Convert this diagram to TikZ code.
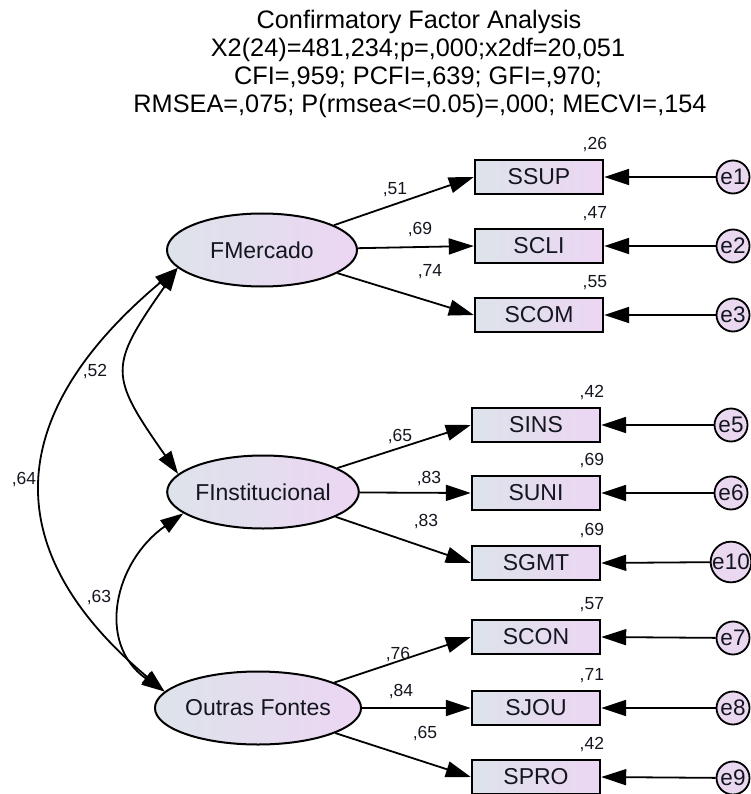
\documentclass[tikz,border=0pt]{standalone}
\usepackage{fontspec}
\setmainfont{Liberation Sans}
\usetikzlibrary{arrows.meta,shapes.geometric}

\definecolor{fillL}{HTML}{DDE3EA}
\definecolor{fillR}{HTML}{ECD6F3}
\definecolor{errfill}{HTML}{EAD8F1}
\definecolor{ink}{HTML}{14161F}

\tikzset{
  arr/.style={line width=1.8pt, -{Triangle[length=25pt,width=16pt]}},
  biarr/.style={line width=1.8pt, {Triangle[length=23pt,width=15pt]}-{Triangle[length=23pt,width=15pt]}},
  latent/.style={ellipse, draw, line width=2pt, minimum width=190pt, minimum height=73pt,
    left color=fillL, right color=fillR, inner sep=0pt, text=ink, font=\fontsize{23}{27}\selectfont},
  obs/.style={rectangle, draw, line width=2.4pt, minimum width=128pt, minimum height=34pt,
    left color=fillL, right color=fillR, inner sep=0pt, text=ink, font=\fontsize{23}{27}\selectfont},
  err/.style={circle, draw, line width=1.8pt, minimum size=33pt, fill=errfill, inner sep=0pt,
    text=ink, font=\fontsize{22.5}{25}\selectfont},
  lab/.style={inner sep=0pt, text=ink, font=\fontsize{17.5}{20}\selectfont},
  ttl/.style={inner sep=0pt, anchor=base, font=\fontsize{25.3}{28}\selectfont},
}

\begin{document}
\begin{tikzpicture}[x=1pt,y=-1pt]
\useasboundingbox (0,0) rectangle (750,794);

% title block
\node[ttl] (t1) at (419,29)  {Confirmatory Factor Analysis};
\node[ttl] (t2) at (418,57)  {X2(24)=481,234;p=,000;x2df=20,051};
\node[ttl] (t3) at (418,85)  {CFI=,959; PCFI=,639; GFI=,970;};
\node[ttl] (t4) at (420,113) {RMSEA=,075; P(rmsea<=0.05)=,000; MECVI=,154};

% latent factors
\node[latent] (FM) at (262,250) {FMercado};
\node[latent] (FI) at (263,492) {FInstitucional};
\node[latent] (OF) at (258,708) {Outras Fontes};

% observed indicators
\node[obs] (SSUP) at (539,177) {SSUP};
\node[obs] (SCLI) at (539,246) {SCLI};
\node[obs] (SCOM) at (539,315) {SCOM};
\node[obs] (SINS) at (536,425) {SINS};
\node[obs] (SUNI) at (536,493) {SUNI};
\node[obs] (SGMT) at (536,563) {SGMT};
\node[obs] (SCON) at (536,637) {SCON};
\node[obs] (SJOU) at (536,708) {SJOU};
\node[obs] (SPRO) at (536,777) {SPRO};

% error terms
\node[err] (e1)  at (733,177) {e1};
\node[err] (e2)  at (733,246) {e2};
\node[err] (e3)  at (733,315) {e3};
\node[err] (e5)  at (731,425) {e5};
\node[err] (e6)  at (731,493) {e6};
\node[err] (e10) at (731,562) {e10};
\node[err] (e7)  at (733,638) {e7};
\node[err] (e8)  at (733,708) {e8};
\node[err] (e9)  at (733,778) {e9};

% factor loadings
\draw[arr] (FM) -- (SSUP.west);
\draw[arr] (FM) -- (SCLI.west);
\draw[arr] (FM) -- (SCOM.west);
\draw[arr] (FI) -- (SINS.west);
\draw[arr] (FI) -- (SUNI.west);
\draw[arr] (FI) -- (SGMT.west);
\draw[arr] (OF) -- (SCON.west);
\draw[arr] (OF) -- (SJOU.west);
\draw[arr] (OF) -- (SPRO.west);

% error paths
\foreach \e/\v in {e1/SSUP,e2/SCLI,e3/SCOM,e5/SINS,e6/SUNI,e10/SGMT,e7/SCON,e8/SJOU,e9/SPRO}
  \draw[arr] (\e) -- (\v.east);

% factor covariances
\draw[biarr] (FM.192) to[out=235,in=125,looseness=1.5] (FI.168);
\draw[biarr] (FM.192) to[out=220,in=140,looseness=1.35] (OF.170);
\draw[biarr] (FI.195) to[out=215,in=145,looseness=1.2] (OF.170);

% loading estimates
\node[lab] (l1) at (395,190) {,51};
\node[lab] (l2) at (420,230) {,69};
\node[lab] (l3) at (430,272) {,74};
\node[lab] (l4) at (400,437) {,65};
\node[lab] (l5) at (429,479) {,83};
\node[lab] (l6) at (426,522) {,83};
\node[lab] (l7) at (398,655) {,76};
\node[lab] (l8) at (401,692) {,84};
\node[lab] (l9) at (425,734) {,65};

% correlation estimates
\node[lab] (c1) at (95,372) {,52};
\node[lab] (c2) at (24,480) {,64};
\node[lab] (c3) at (99,598) {,63};

% squared multiple correlations
\foreach \v/\r in {SSUP/{,26},SCLI/{,47},SCOM/{,55},SINS/{,42},SUNI/{,69},SGMT/{,69},SCON/{,57},SJOU/{,71},SPRO/{,42}}
  \node[lab, anchor=south east] (r\v) at ([xshift=3pt,yshift=7pt]\v.north east) {\r};
\end{tikzpicture}
\end{document}
